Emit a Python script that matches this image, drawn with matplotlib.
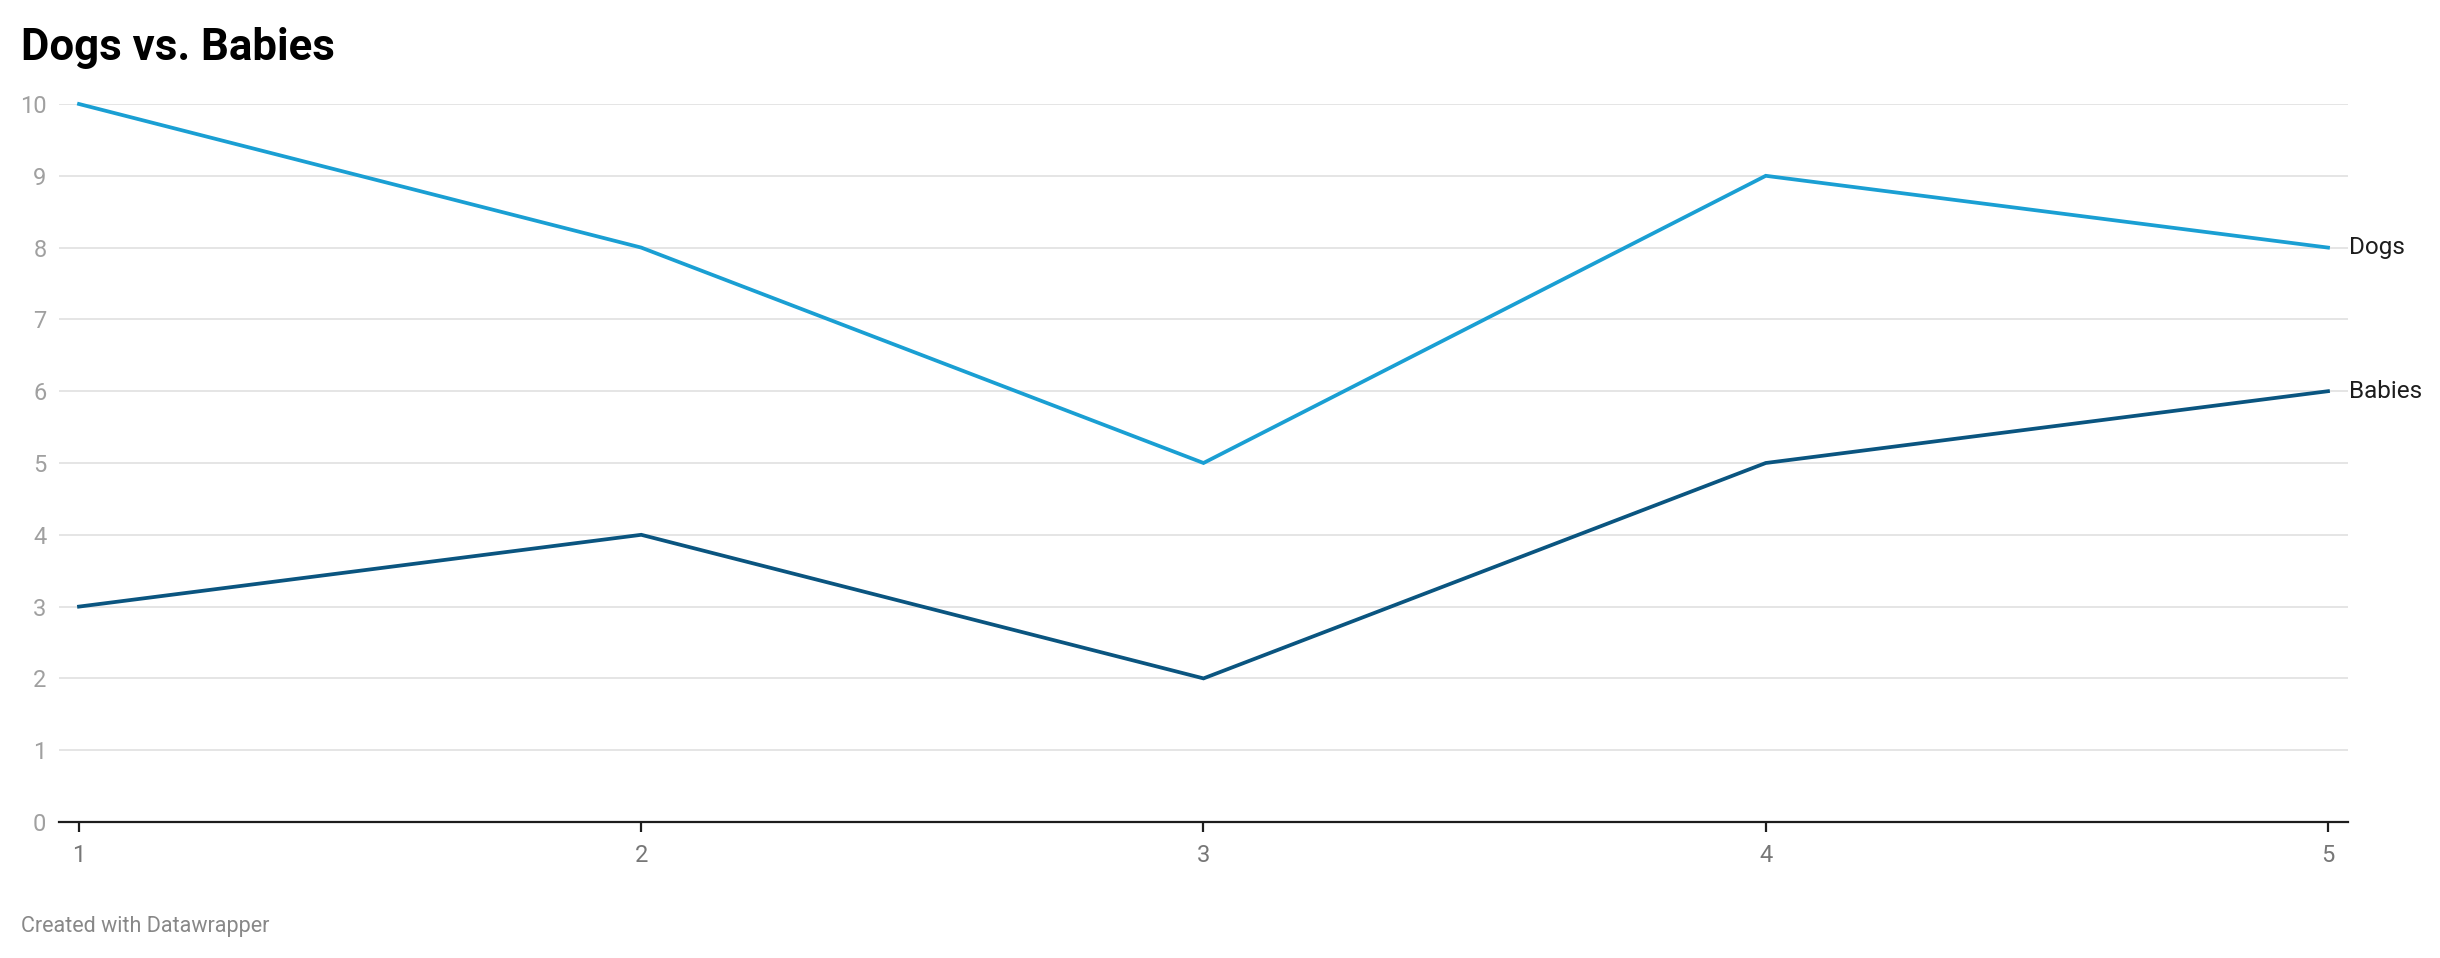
import matplotlib.pyplot as plt

plt.rcParams['font.family'] = ['Roboto', 'DejaVu Sans']

x = [1, 2, 3, 4, 5]
dogs = [10, 8, 5, 9, 8]
babies = [3, 4, 2, 5, 6]
y_ticks = list(range(0, 11))

DOGS_COLOR = '#1a9fd3'
BABIES_COLOR = '#0a5580'

W, H = 2440, 958
fig = plt.figure(figsize=(W / 100, H / 100), dpi=100)
ax = fig.add_axes([59 / W, 1 - 822 / H, (2348 - 59) / W, (822 - 104) / H])

ax.plot(x, dogs, color=DOGS_COLOR, lw=2.7, clip_on=False, solid_joinstyle='miter', zorder=3)
ax.plot(x, babies, color=BABIES_COLOR, lw=2.7, clip_on=False, solid_joinstyle='miter', zorder=3)

unit = (2328 - 79) / 4
ax.set_xlim(1 - 20 / unit, 5 + 20 / unit)
ax.set_ylim(0, 10)

ax.set_yticks(y_ticks)
ax.set_xticks(x)
ax.grid(axis='y', color='#e3e3e3', lw=1.3, zorder=0)
ax.set_axisbelow(True)

for s in ['top', 'right', 'left']:
    ax.spines[s].set_visible(False)
ax.spines['bottom'].set_color('#1d1d1d')
ax.spines['bottom'].set_linewidth(1.6)
ax.spines['bottom'].set_zorder(4)

ax.tick_params(axis='y', length=0, pad=9, labelsize=17, labelcolor='#a0a0a0')
ax.tick_params(axis='x', length=7, width=1.6, color='#1d1d1d', pad=9,
               labelsize=17, labelcolor='#777777')

# end labels
ax.annotate('Dogs', (x[-1], dogs[-1]), xytext=(21, 0), textcoords='offset pixels',
            va='center', ha='left', fontsize=17.5, color='#1d1d1d', annotation_clip=False)
ax.annotate('Babies', (x[-1], babies[-1]), xytext=(21, 0), textcoords='offset pixels',
            va='center', ha='left', fontsize=17.5, color='#1d1d1d', annotation_clip=False)

fig.text(21 / W, 1 - 60 / H, 'Dogs vs. Babies', fontsize=31.5, fontweight='bold',
         color='#000000', ha='left', va='baseline')
fig.text(21 / W, 1 - 932 / H, 'Created with Datawrapper', fontsize=15.5,
         color='#888888', ha='left', va='baseline')

fig.savefig('out.png', dpi=100, facecolor='white')
